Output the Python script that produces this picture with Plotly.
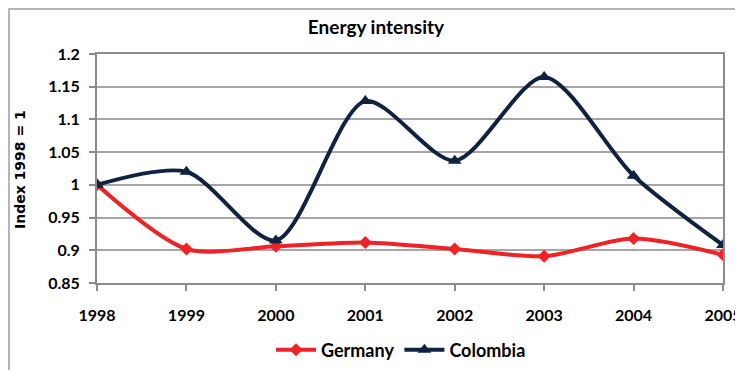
import plotly.graph_objects as go

years = ["1998", "1999", "2000", "2001", "2002", "2003", "2004", "2005"]
germany = [1.0, 0.902, 0.906, 0.912, 0.902, 0.891, 0.918, 0.893]
colombia = [1.0, 1.020, 0.915, 1.128, 1.037, 1.165, 1.014, 0.908]
yticks = [0.85, 0.9, 0.95, 1.0, 1.05, 1.1, 1.15, 1.2]
ytick_text = ["0.85", "0.9", "0.95", "1", "1.05", "1.1", "1.15", "1.2"]

RED = "#ee2326"
NAVY = "#0f2240"
FONT = "Lato"

# the page body adds an 8px offset; work in page pixels and subtract it
OFF = 8
W, H = 743 - OFF, 370 - OFF
L, T = 97 - OFF, 54 - OFF
PW, PH = 723 - 97, 283 - 54
R, B = W - L - PW, H - T - PH


def px(xp):
    return (xp - OFF - L) / PW


def py(yp):
    return (T + PH - (yp - OFF)) / PH


fig = go.Figure()
fig.add_trace(go.Scatter(
    x=list(range(len(years))), y=germany, name="<b>Germany</b>", mode="lines+markers",
    line=dict(color=RED, width=4, shape="spline", smoothing=0.8),
    marker=dict(symbol="diamond", size=10, color=RED),
))
fig.add_trace(go.Scatter(
    x=list(range(len(years))), y=colombia, name="<b>Colombia</b>", mode="lines+markers",
    line=dict(color=NAVY, width=4, shape="spline", smoothing=0.8),
    marker=dict(symbol="triangle-up", size=12, color=NAVY),
))

fig.update_layout(
    width=W, height=H,
    margin=dict(l=L, r=R, t=T, b=B, autoexpand=False),
    paper_bgcolor="white", plot_bgcolor="white",
    font=dict(family=FONT, color="black"),
    title=dict(text="<b>Energy intensity</b>", x=(376 - OFF) / W, xref="container",
               y=1 - (27 - OFF) / H, yref="container", yanchor="middle", xanchor="center",
               font=dict(family=FONT, size=19, color="black")),
    showlegend=True,
    legend=dict(orientation="h", x=px(401), y=py(350),
                xanchor="center", yanchor="middle",
                font=dict(family=FONT, size=18, color="black"),
                itemwidth=40, tracegroupgap=0, bgcolor="rgba(0,0,0,0)"),
    xaxis=dict(
        tickmode="array", tickvals=list(range(len(years))),
        ticktext=["<b>%s</b>" % y for y in years],
        range=[0, len(years) - 1], showgrid=False, automargin=False,
        showline=True, linecolor="#8c8c8c", linewidth=2, mirror=True,
        ticks="outside", ticklen=6, tickcolor="#8c8c8c", tickwidth=2,
        ticklabelstandoff=11,
        tickfont=dict(family=FONT, size=16, color="black"), zeroline=False,
    ),
    yaxis=dict(
        tickmode="array", tickvals=yticks,
        ticktext=["<b>%s</b>" % t for t in ytick_text],
        range=[0.85, 1.2], showgrid=True, gridcolor="#a6a6a6", gridwidth=2,
        automargin=False,
        showline=True, linecolor="#8c8c8c", linewidth=2, mirror=True,
        ticks="outside", ticklen=6, tickcolor="#8c8c8c", tickwidth=2,
        ticklabelstandoff=6,
        tickfont=dict(family=FONT, size=16, color="black"), zeroline=False,
    ),
)

# y-axis title
fig.add_annotation(text="<b>Index 1998 = 1</b>", xref="paper", yref="paper",
                   x=px(20), y=py(170), textangle=-90,
                   showarrow=False, xanchor="center", yanchor="middle",
                   font=dict(family="DejaVu Sans", size=14, color="black"))

# outer chart border
fig.add_shape(type="rect", xref="paper", yref="paper",
              x0=px(OFF + 1), x1=1.2, y0=-0.5, y1=py(OFF + 1),
              line=dict(color="#b5b5b5", width=2), fillcolor="rgba(0,0,0,0)", layer="below")

fig.write_html("out.html")
